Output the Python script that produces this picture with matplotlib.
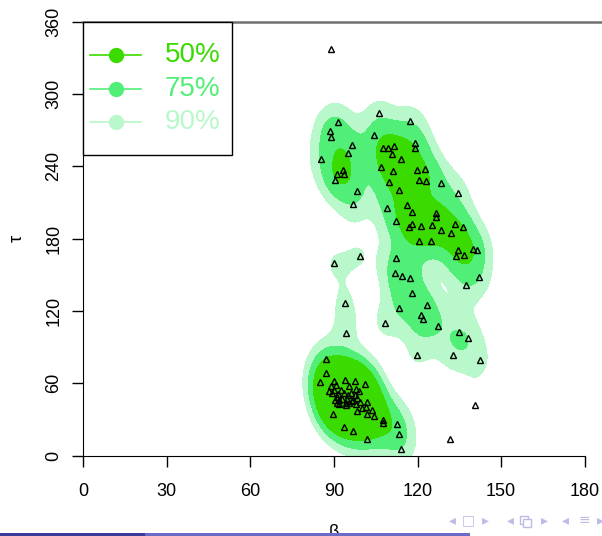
import numpy as np
import matplotlib
matplotlib.use('Agg')
import matplotlib.pyplot as plt
from matplotlib.lines import Line2D

plt.rcParams['font.family'] = ['Liberation Sans', 'DejaVu Sans']

beta = [89.0, 106.3, 91.3, 117.4, 88.6, 88.8, 104.3, 96.4, 119.2, 119.1,
        107.7, 109.3, 111.6, 95.1, 110.9, 85.4, 114.2, 93.3, 93.5, 91.2,
        90.5, 106.8, 111.3, 119.8, 122.8, 120.5, 122.9, 128.3, 109.6, 98.3,
        113.4, 134.4, 96.7, 108.9, 116.1, 118.0, 126.5, 126.5, 112.3, 116.9,
        117.9, 121.1, 125.2, 128.3, 132.1, 133.4, 136.3, 120.4, 124.7, 134.5,
        133.7, 136.7, 139.8, 141.3, 99.2, 89.9, 112.4, 111.9, 114.5, 117.2,
        141.9, 137.5, 118.0, 93.8, 123.4, 113.4, 121.2, 121.9, 94.3, 108.2,
        127.4, 134.8, 138.1, 119.9, 132.6, 142.5, 140.5, 131.5,
        87.0, 87.0, 85.1, 90.0, 93.8, 97.5, 101.1, 88.9, 90.7, 95.5,
        88.1, 90.1, 92.5, 98.0, 99.1, 89.4, 91.4, 93.5, 94.9, 96.2,
        97.6, 91.0, 90.4, 91.7, 93.0, 94.8, 96.9, 98.4, 91.0, 91.9,
        94.2, 95.4, 96.5, 99.3, 97.9, 101.8, 101.5, 100.2, 98.3, 103.6,
        94.4, 89.5, 101.8, 104.5, 107.5, 107.6, 112.5, 93.6, 96.7, 113.3,
        101.8, 114.1]
tau = [337.1, 284.0, 277.0, 277.8, 269.5, 264.3, 266.0, 257.7, 259.6, 255.4,
       254.9, 254.9, 257.1, 250.8, 250.0, 246.3, 245.8, 236.9, 233.4, 233.6,
       228.4, 239.4, 236.1, 236.9, 237.8, 228.6, 228.0, 226.1, 226.7, 219.5,
       220.1, 217.8, 209.0, 205.6, 207.9, 202.1, 201.5, 197.7, 194.4, 189.6,
       191.9, 190.2, 191.3, 187.1, 184.6, 192.1, 189.4, 177.8, 177.8, 170.3,
       165.8, 166.6, 171.6, 170.3, 165.8, 159.8, 163.7, 151.7, 149.2, 147.3,
       147.9, 141.2, 134.9, 126.8, 124.9, 122.2, 116.3, 113.5, 101.9, 109.7,
       107.2, 102.2, 97.8, 83.2, 83.2, 79.0, 42.2, 13.4,
       80.1, 68.7, 61.4, 62.1, 62.7, 61.8, 59.1, 57.9, 58.5, 57.7,
       53.8, 54.4, 54.4, 55.4, 53.8, 51.6, 50.8, 52.1, 50.2, 51.6,
       50.5, 48.8, 46.1, 46.1, 46.9, 46.6, 46.1, 47.5, 43.3, 42.7,
       43.8, 43.3, 45.5, 44.4, 42.5, 44.1, 40.5, 39.7, 37.2, 37.5,
       41.7, 34.2, 34.4, 32.5, 29.2, 27.2, 26.4, 23.9, 20.6, 17.6,
       13.9, 5.6]

cont_labels = ['50%', '75%', '90%']
cont_probs = [50, 75, 90]
cont_colors = ['#3ADB00', '#52EF78', '#B8F8CA']

# Gaussian kernel density estimate
def kde(xs, ys, px, py, hx, hy):
    z = np.zeros_like(px, dtype=float)
    for xi, yi in zip(xs, ys):
        z += np.exp(-0.5 * (((px - xi) / hx) ** 2 + ((py - yi) / hy) ** 2))
    return z / (len(xs) * 2 * np.pi * hx * hy)

hx, hy = 4.5, 15.0
gxs = np.linspace(40, 190, 500)
gys = np.linspace(-60, 420, 800)
gx, gy = np.meshgrid(gxs, gys)
dens = kde(np.array(beta), np.array(tau), gx, gy, hx, hy)

# highest density region levels: density value enclosing p% of the mass
cell = (gxs[1] - gxs[0]) * (gys[1] - gys[0])
srt = np.sort(dens.ravel())[::-1]
mass = np.cumsum(srt) * cell
levels = [srt[np.searchsorted(mass, p / 100)] for p in cont_probs]

W, H = 602, 536
fig = plt.figure(figsize=(W / 100, H / 100), dpi=100)
ax = fig.add_axes([83.3 / W, 80.5 / H, (584.7 - 83.3) / W, (455.5 - 21.7) / H])

ax.contourf(gx, gy, dens, levels=[levels[2], levels[1], levels[0], dens.max() * 1.1],
            colors=[cont_colors[2], cont_colors[1], cont_colors[0]])
ax.plot(beta, tau, linestyle='none', marker='^', markersize=4.5,
        markerfacecolor='none', markeredgecolor='black', markeredgewidth=1.0)

ax.set_xlim(0, 180)
ax.set_ylim(0, 360)
ax.set_xticks(range(0, 181, 30))
ax.set_yticks(range(0, 361, 60))
ax.tick_params(labelsize=13, length=8, width=1)
ax.tick_params(axis='x', pad=12)
ax.tick_params(axis='y', pad=7)
for lab in ax.get_yticklabels():
    lab.set_rotation(90)
    lab.set_va('center')
ax.spines['top'].set_visible(False)
ax.spines['right'].set_visible(False)
ax.set_xlabel('β', fontsize=13, labelpad=17)
ax.set_ylabel('τ', fontsize=13, labelpad=14)

# legend box drawn by hand (pixel layout of the slide)
def fx(px):
    return px / W

def fy(py):
    return 1 - py / H

fig.add_artist(plt.Rectangle((fx(83.3), fy(155)), fx(232) - fx(83.3), fy(21.7) - fy(155),
                             facecolor='white', edgecolor='black', lw=1.0, zorder=5))
for i, (lab, col) in enumerate(zip(cont_labels, cont_colors)):
    yy = fy(55 + 33.5 * i)
    fig.add_artist(Line2D([fx(90), fx(141)], [yy, yy], color=col, lw=1.2, zorder=6))
    fig.add_artist(Line2D([fx(115.5)], [yy], color=col, marker='o', markersize=10,
                          zorder=6))
    fig.text(fx(165), yy, lab, color=col, fontsize=20, va='center', ha='left', zorder=6)

# slide decorations: top rule, footer bar, beamer navigation symbols
nav_col = '#bcbce6'
fig.add_artist(Line2D([fx(83.3), 1], [fy(21.7)] * 2, color='#707070', lw=1.8))
fig.add_artist(plt.Rectangle((0, 0), fx(145), 3 / H, color='#3a3a9a', lw=0))
fig.add_artist(plt.Rectangle((fx(145), 0), fx(470) - fx(145), 3 / H, color='#6a6ac8', lw=0))
for sym, px in [('◂', 452), ('□', 468), ('▸', 485), ('◂', 510), ('▸', 544),
                ('◂', 565), ('≡', 584), ('▸', 600)]:
    fig.text(fx(px), fy(520), sym, ha='center', va='center', color=nav_col,
             fontsize=10, family=['DejaVu Sans'])
# stacked-frames icon (no installed font has this glyph)
for dx, dy in [(0, 0), (3, -3)]:
    fig.add_artist(plt.Rectangle((fx(520 + dx), fy(524 - dy)), 8 / W, 8 / H,
                                 facecolor='white', edgecolor=nav_col, lw=1.0))

fig.savefig('out.png', dpi=100)
